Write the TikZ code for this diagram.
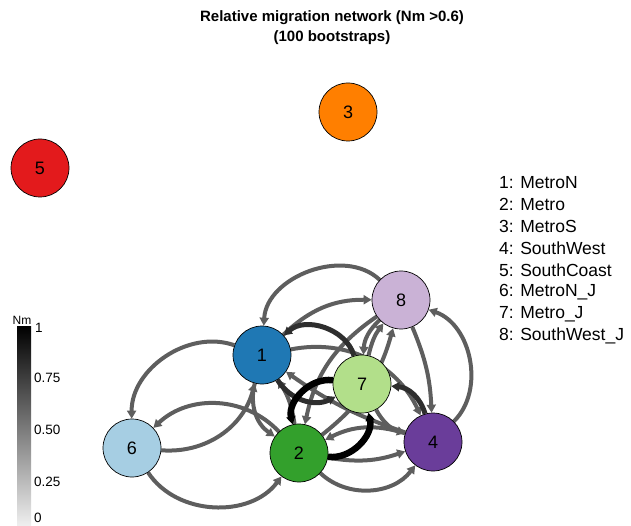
\documentclass[tikz,border=0pt]{standalone}
\usepackage{fontspec}
\setmainfont{Liberation Sans}
\usepackage{tikz}
\usetikzlibrary{arrows.meta, backgrounds}
\definecolor{popA}{HTML}{1F78B4}
\definecolor{popB}{HTML}{33A02C}
\definecolor{popC}{HTML}{FF7F00}
\definecolor{popD}{HTML}{6A3D9A}
\definecolor{popE}{HTML}{E31A1C}
\definecolor{popF}{HTML}{A6CEE3}
\definecolor{popG}{HTML}{B2DF8A}
\definecolor{popH}{HTML}{CAB2D6}
\definecolor{edgecol}{HTML}{5E5E5E}
\definecolor{darkcol}{HTML}{2E2E2E}

\begin{document}
\begin{tikzpicture}[
  x=1pt, y=-1pt,
  pop/.style={
    draw=black, circle, minimum size=58pt, inner sep=0pt, line width=0.7pt,
    font=\fontsize{18}{20}\selectfont
  },
  mig/.style={-{Triangle[length=8pt, width=9pt]}, line width=4pt, edgecol},
  strong/.style={mig, line width=5pt, darkcol},
  top/.style={mig, line width=6.5pt, black},
  lbl/.style={font=\fontsize{17.5}{20}\selectfont, anchor=west, inner sep=0pt},
  tick/.style={font=\fontsize{13.5}{15}\selectfont, anchor=west, inner sep=0pt},
]
\useasboundingbox (0,0) rectangle (631,526);

% ===== Title =====
\node[font=\fontsize{15}{20}\selectfont\bfseries, align=center] (title) at (332, 28)
  {Relative migration network (Nm >0.6)\\(100 bootstraps)};

% ===== Populations =====
\node[pop, fill=popA] (n1) at (262, 355) {1};
\node[pop, fill=popB] (n2) at (299, 453) {2};
\node[pop, fill=popC] (n3) at (348, 112) {3};
\node[pop, fill=popD] (n4) at (433, 442) {4};
\node[pop, fill=popE] (n5) at (40, 168) {5};
\node[pop, fill=popF] (n6) at (132, 448) {6};
\node[pop, fill=popG] (n7) at (362, 384) {7};
\node[pop, fill=popH] (n8) at (401, 300) {8};

% ===== Migration edges (under the nodes) =====
\begin{scope}[on background layer]
  % from/to/bend (negative = bend left)
  \foreach \a/\b/\bb in {8/1/65, 8/2/22, 1/6/55, 2/6/45, 6/1/40, 6/2/55,
                          1/2/35, 2/1/12, 2/4/14, 2/4/48, 4/8/58, 7/8/-12,
                          8/7/22, 7/4/22, 1/8/-22, 2/8/18, 1/4/-38, 4/1/-8,
                          8/4/-10, 4/2/22}{
    \draw[mig] (n\a) to[bend right=\bb] (n\b);
  }
  % darker pairs
  \draw[strong] (n7) to[bend right=58] (n1);
  \draw[strong] (n1) to[bend right=42] (n7);
  \draw[strong] (n4) to[bend right=35] (n7);
  % strongest pair
  \draw[top] (n7) to[bend right=55] (n2);
  \draw[top] (n2) to[bend right=55] (n7);
\end{scope}

% ===== Legend =====
\foreach \i/\name in {1/MetroN, 2/Metro, 3/MetroS, 4/SouthWest, 5/SouthCoast,
                      6/MetroN\_J, 7/Metro\_J, 8/SouthWest\_J}{
  \node[lbl] (leg\i) at (499, 183 + 21.9*\i - 21.9) {\i: \name};
}

% ===== Colour bar =====
\shade[top color=black, bottom color=black!6] (17, 326) rectangle (31, 526);
\node[font=\fontsize{12}{14}\selectfont, inner sep=0pt] (nmlab) at (22, 320) {Nm};
\node[tick] (t100) at (35, 328) {1};
\node[tick] (t075) at (34, 378) {0.75};
\node[tick] (t050) at (34, 430) {0.50};
\node[tick] (t025) at (34, 482) {0.25};
\node[tick] (t000) at (34, 518) {0};

\end{tikzpicture}
\end{document}
